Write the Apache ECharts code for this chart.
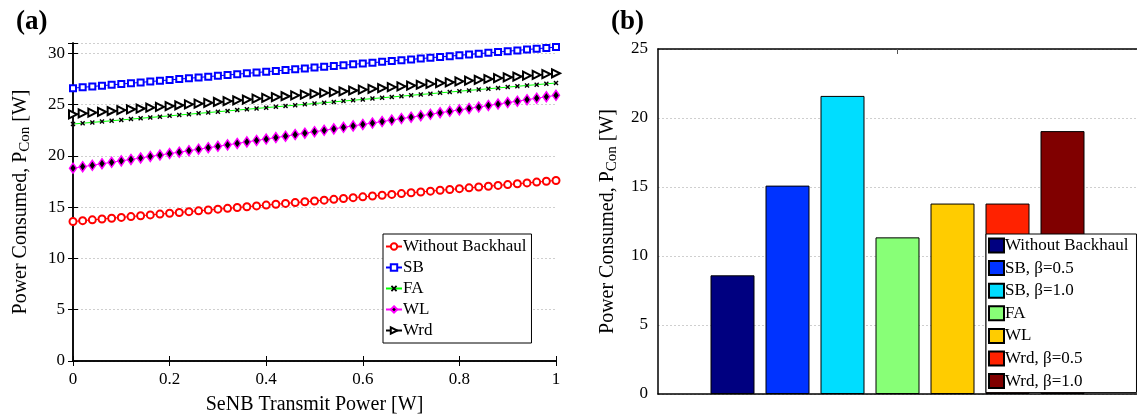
<!DOCTYPE html>
<html>
<head>
<meta charset="utf-8">
<script src="https://cdn.jsdelivr.net/npm/echarts@6/dist/echarts.min.js"></script>
<style>
html,body{margin:0;padding:0;background:#fff;}
#wrap{position:relative;width:1137px;height:420px;overflow:hidden;}
#ca{position:absolute;left:0;top:0;width:580px;height:420px;}
#cb{position:absolute;left:580px;top:0;width:557px;height:420px;}
</style>
</head>
<body>
<div id="wrap"><div id="ca"></div><div id="cb"></div></div>
<script>
// ---- Panel (a) data ----
const xPower = [0,0.02,0.04,0.06,0.08,0.10,0.12,0.14,0.16,0.18,0.20,0.22,0.24,0.26,0.28,0.30,0.32,0.34,0.36,0.38,0.40,0.42,0.44,0.46,0.48,0.50,0.52,0.54,0.56,0.58,0.60,0.62,0.64,0.66,0.68,0.70,0.72,0.74,0.76,0.78,0.80,0.82,0.84,0.86,0.88,0.90,0.92,0.94,0.96,0.98,1.00];
const withoutBackhaul = [13.60,13.68,13.76,13.84,13.92,14.00,14.08,14.16,14.24,14.32,14.40,14.48,14.56,14.64,14.72,14.80,14.88,14.96,15.04,15.12,15.20,15.28,15.36,15.44,15.52,15.60,15.68,15.76,15.84,15.92,16.00,16.08,16.16,16.24,16.32,16.40,16.48,16.56,16.64,16.72,16.80,16.88,16.96,17.04,17.12,17.20,17.28,17.36,17.44,17.52,17.60];
const sbLine = [26.60,26.68,26.76,26.84,26.92,27.00,27.08,27.16,27.24,27.32,27.40,27.48,27.56,27.64,27.72,27.80,27.88,27.96,28.04,28.12,28.20,28.28,28.36,28.44,28.52,28.60,28.68,28.76,28.84,28.92,29.00,29.08,29.16,29.24,29.32,29.40,29.48,29.56,29.64,29.72,29.80,29.88,29.96,30.04,30.12,30.20,30.28,30.36,30.44,30.52,30.60];
const faLine = [23.10,23.18,23.26,23.34,23.42,23.50,23.58,23.66,23.74,23.82,23.90,23.98,24.06,24.14,24.22,24.30,24.38,24.46,24.54,24.62,24.70,24.78,24.86,24.94,25.02,25.10,25.18,25.26,25.34,25.42,25.50,25.58,25.66,25.74,25.82,25.90,25.98,26.06,26.14,26.22,26.30,26.38,26.46,26.54,26.62,26.70,26.78,26.86,26.94,27.02,27.10];
const wlLine = [18.80,18.94,19.08,19.23,19.37,19.51,19.65,19.79,19.94,20.08,20.22,20.36,20.50,20.65,20.79,20.93,21.07,21.21,21.36,21.50,21.64,21.78,21.92,22.07,22.21,22.35,22.49,22.63,22.78,22.92,23.06,23.20,23.34,23.49,23.63,23.77,23.91,24.05,24.20,24.34,24.48,24.62,24.76,24.91,25.05,25.19,25.33,25.47,25.62,25.76,25.90];
const wrdLine = [24.05,24.13,24.21,24.29,24.37,24.45,24.53,24.61,24.69,24.77,24.85,24.93,25.01,25.09,25.17,25.25,25.33,25.41,25.49,25.57,25.65,25.73,25.81,25.89,25.97,26.05,26.13,26.21,26.29,26.37,26.45,26.53,26.61,26.69,26.77,26.85,26.93,27.01,27.09,27.17,27.25,27.33,27.41,27.49,27.57,27.65,27.73,27.81,27.89,27.97,28.05];
const lineNames = ['Without Backhaul','SB','FA','WL','Wrd'];

// ---- Panel (b) data ----
const barNames = ['Without Backhaul','SB, \u03b2=0.5','SB, \u03b2=1.0','FA','WL','Wrd, \u03b2=0.5','Wrd, \u03b2=1.0'];
const barValues = [8.6, 15.1, 21.6, 11.35, 13.8, 13.8, 19.05];
const barColors = ['#000080','#0033ff','#00ddff','#88ff77','#ffcc00','#ff2200','#800000'];

const FONT = 'Liberation Serif';
const chartA = echarts.init(document.getElementById('ca'));
const chartB = echarts.init(document.getElementById('cb'));

function pairs(ys){ return ys.map((y,i)=>[xPower[i], y]); }

const gridStyle = {show:true, lineStyle:{color:'#cfcfcf', type:[2,2], width:1}};
const axisLineBlack = {show:true, lineStyle:{color:'#000', width:1.5}};
const labelStyle = {color:'#000', fontFamily:FONT, fontSize:17};
const xMark = 'path://M2,0L5,3L8,0L10,2L7,5L10,8L8,10L5,7L2,10L0,8L3,5L0,2Z';
const yName = {fontFamily:FONT, fontSize:20, color:'#000',
  rich:{sub:{fontFamily:FONT, fontSize:15, color:'#000', verticalAlign:'bottom', padding:[10,0,0,0]}}};

const optionA = {
  animation:false,
  backgroundColor:'#fff',
  title:{text:'(a)', left:11, top:4, textStyle:{fontFamily:FONT, fontWeight:'bold', fontSize:27, color:'#000'}},
  grid:{left:73, top:43, width:483, height:321},
  xAxis:[
    {type:'value', min:0, max:1, interval:0.2, position:'bottom',
     name:'SeNB Transmit Power [W]', nameLocation:'middle', nameGap:34,
     nameTextStyle:{fontFamily:FONT, fontSize:20, color:'#000'},
     axisLine:axisLineBlack, axisTick:{show:true, inside:true, length:5, lineStyle:{color:'#000'}},
     axisLabel:Object.assign({margin:10}, labelStyle), splitLine:{show:false}},
    {type:'value', min:0, max:1, interval:0.2, position:'top',
     axisLine:axisLineBlack, axisTick:{show:true, inside:true, length:5, lineStyle:{color:'#000'}},
     axisLabel:{show:false}, splitLine:{show:false}}
  ],
  yAxis:[
    {type:'value', min:0, max:31, interval:5, position:'left',
     name:'Power Consumed, P{sub|Con} [W]', nameLocation:'middle', nameGap:40,
     nameTextStyle:yName,
     axisLine:axisLineBlack, axisTick:{show:true, inside:true, length:5, lineStyle:{color:'#000'}},
     axisLabel:Object.assign({margin:8, formatter:v=> (v%5===0? String(v):'')}, labelStyle),
     splitLine:gridStyle},
    {type:'value', min:0, max:31, interval:5, position:'right',
     axisLine:axisLineBlack, axisTick:{show:true, inside:true, length:5, lineStyle:{color:'#000'}},
     axisLabel:{show:false}, splitLine:{show:false}}
  ],
  legend:{data:lineNames, orient:'vertical', left:383, top:234, itemGap:4, itemWidth:16, itemHeight:8,
     padding:[4,5,4,2], backgroundColor:'#fff', borderColor:'#000', borderWidth:1,
     textStyle:{fontFamily:FONT, fontSize:17, color:'#000', padding:[0,0,0,-4]}, selectedMode:false},
  series:[
    {name:'Without Backhaul', type:'line', data:pairs(withoutBackhaul),
     symbol:'emptyCircle', symbolSize:7, lineStyle:{color:'#ff0000', width:1}, itemStyle:{color:'#ff0000', borderWidth:1}},
    {name:'SB', type:'line', data:pairs(sbLine),
     symbol:'emptyRect', symbolSize:6, lineStyle:{color:'#0000ff', width:1}, itemStyle:{color:'#0000ff', borderWidth:1}},
    {name:'FA', type:'line', data:pairs(faLine),
     symbol:xMark, symbolSize:5, lineStyle:{color:'#00ff00', width:1}, itemStyle:{color:'#000'}},
    {name:'WL', type:'line', data:pairs(wlLine),
     symbol:'diamond', symbolSize:[7,10], lineStyle:{color:'#ff00ff', width:1}, itemStyle:{color:'#000', borderColor:'#ff00ff', borderWidth:1.5}},
    {name:'Wrd', type:'line', data:pairs(wrdLine),
     symbol:'emptyTriangle', symbolRotate:-90, symbolSize:8, lineStyle:{color:'#000', width:1}, itemStyle:{color:'#000', borderWidth:1}}
  ]
};

const optionB = {
  animation:false,
  backgroundColor:'#fff',
  title:{text:'(b)', left:26, top:4, textStyle:{fontFamily:FONT, fontWeight:'bold', fontSize:27, color:'#000'}},
  grid:{left:78, top:49, width:484, height:345},
  xAxis:[
    {type:'category', data:['1'], position:'bottom',
     axisLine:axisLineBlack, axisTick:{show:false}, axisLabel:{show:false}, splitLine:{show:false}},
    {type:'category', data:['1'], position:'top',
     axisLine:axisLineBlack, axisTick:{show:true, inside:true, alignWithLabel:true, length:5, lineStyle:{color:'#555'}},
     axisLabel:{show:false}, splitLine:{show:false}}
  ],
  yAxis:{type:'value', min:0, max:25, interval:5, position:'left',
     name:'Power Consumed, P{sub|Con} [W]', nameLocation:'middle', nameGap:38,
     nameTextStyle:yName,
     axisLine:axisLineBlack, axisTick:{show:false},
     axisLabel:Object.assign({margin:10}, labelStyle),
     splitLine:gridStyle},
  legend:{data:barNames, orient:'vertical', left:406, top:234, itemGap:5.6, itemWidth:15, itemHeight:14,
     padding:[3,8,3,2], backgroundColor:'#fff', borderColor:'#000', borderWidth:1, icon:'rect',
     textStyle:{fontFamily:FONT, fontSize:17, color:'#000', padding:[0,0,0,-4]}, selectedMode:false},
  series:barNames.map((n,i)=>({name:n, type:'bar', data:[barValues[i]],
    barWidth:44, barGap:'25%',
    itemStyle:{color:barColors[i], borderColor:'#000', borderWidth:1}}))
};

chartA.setOption(optionA);
chartB.setOption(optionB);
</script>
</body>
</html>
